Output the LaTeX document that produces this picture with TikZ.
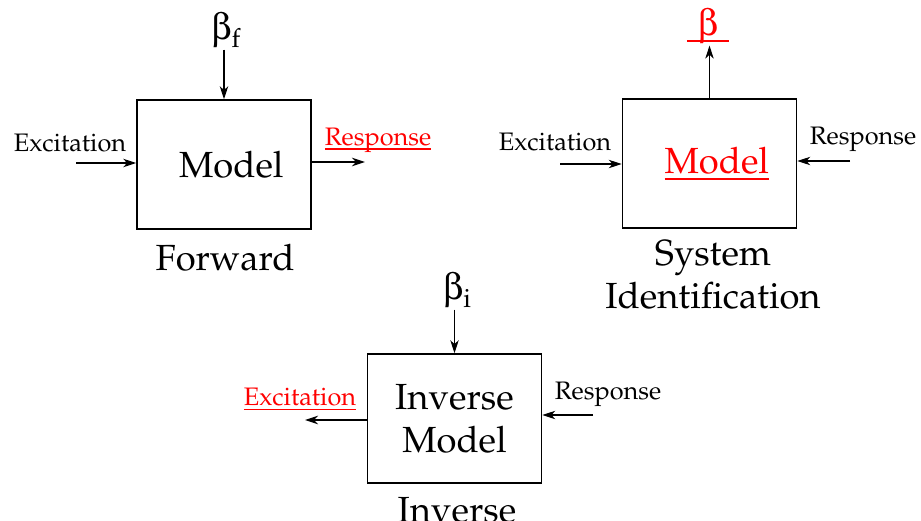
\documentclass[tikz,border=0pt]{standalone}
\usepackage[T1]{fontenc}
\usepackage{mathpazo}
\usepackage[Symbol]{upgreek}
\usepackage{tikz}
\usepackage{xcolor}
\usetikzlibrary{arrows.meta}

\tikzset{
  block/.style={draw, line width=1pt, minimum width=3.48cm, minimum height=2.58cm, align=center, font=\fontsize{20.7}{24.5}\selectfont},
  sig/.style={font=\fontsize{14.4}{17}\selectfont, inner sep=1pt},
  probname/.style={font=\fontsize{20.7}{24.5}\selectfont, align=center},
  param/.style={font=\fontsize{21}{23}\selectfont, inner sep=1pt},
  flow/.style={->, line width=0.6pt},
}
% unknown quantity: red, with a red rule under it
\newcommand{\tofind}[1]{{\color{red}\setbox0\hbox{#1}\rlap{\rule[-0.18em]{\wd0}{0.06em}}\box0}}
\newcommand{\parsub}[1]{\raisebox{-0.22em}{\fontsize{15}{15}\selectfont #1}}

\begin{document}
\begin{tikzpicture}[x=0.02cm, y=-0.02cm, >={Stealth[length=2.6mm, width=1.7mm, inset=0.8mm]}]
  \useasboundingbox (0,0) rectangle (921,521);

  % forward problem
  \node[block] (fwd) at (224,164.5) {\hspace{0.4em}Model};
  \node[param] (fbeta) at (226,30) {$\upbeta$\parsub{f}};
  \node[sig] (fexc) at (70,143) {Excitation};
  \node[sig] (fresp) at (378,140) {\tofind{Response}};
  \coordinate (fin) at (76,163);
  \coordinate (fout) at (365,162);
  \draw[flow] (fwd.north |- fbeta.south) -- (fwd.north);
  \draw[flow] (fin) -- (fin -| fwd.west);
  \draw[flow] (fout -| fwd.east) -- (fout);
  \node[probname] (fname) at (225,258) {Forward};

  % system identification
  \node[block] (sys) at (709.5,163.5) {\hspace{0.4em}\tofind{Model}};
  \node[param] (sbeta) at (708,26) {\tofind{\hspace{0.3em}$\upbeta$\hspace{0.3em}}};
  \node[sig] (sexc) at (555,142) {Excitation};
  \node[sig] (sresp) at (863,139) {Response};
  \coordinate (sin) at (560,164);
  \coordinate (sout) at (850,161);
  \draw[flow] (sys.north) -- (sys.north |- sbeta.south);
  \draw[flow] (sin) -- (sin -| sys.west);
  \draw[flow] (sout) -- (sout -| sys.east);
  \node[probname] (sname) at (713,275) {System\\Identification};

  % inverse problem
  \node[block] (inv) at (454.5,418.5) {Inverse\\Model};
  \node[param] (ibeta) at (457,290) {$\upbeta$\parsub{i}};
  \node[sig] (iexc) at (300,399) {\tofind{Excitation}};
  \node[sig] (iresp) at (608,394) {Response};
  \coordinate (iout) at (305,420);
  \coordinate (iin) at (593,415);
  \draw[flow] (inv.north |- ibeta.south) -- (inv.north);
  \draw[flow] (iout -| inv.west) -- (iout);
  \draw[flow] (iin) -- (iin -| inv.east);
  \node[probname] (iname) at (457,510) {Inverse};
\end{tikzpicture}
\end{document}
